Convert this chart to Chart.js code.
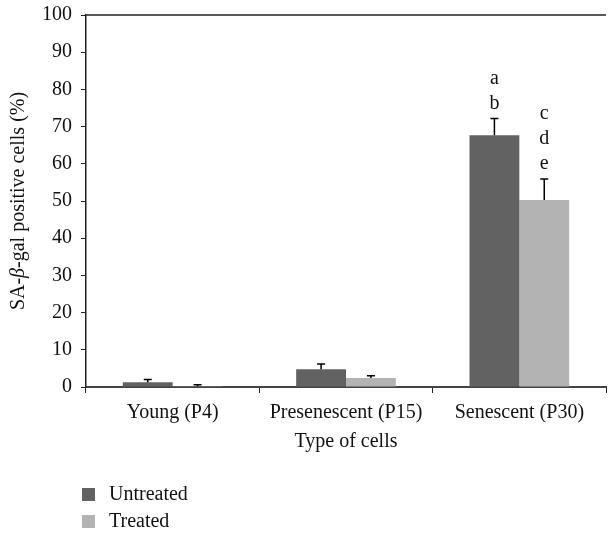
<!DOCTYPE html>
<html>
<head>
<meta charset="utf-8">
<script src="https://cdn.jsdelivr.net/npm/chart.js@4.4.0/dist/chart.umd.min.js"></script>
<style>
  html, body { margin: 0; padding: 0; background: #fff; }
  #wrap { width: 608px; height: 533px; }
</style>
</head>
<body>
<div id="wrap"><canvas id="grafico" width="608" height="533"></canvas></div>
<script>
// datos
const categorias = ['Young (P4)', 'Presenescent (P15)', 'Senescent (P30)'];
const sinTratar = [1.3, 4.8, 67.7];
const sinTratarError = [0.7, 1.4, 4.5];
const tratadas = [0.2, 2.4, 50.3];
const tratadasError = [0.4, 0.6, 5.6];
const letrasSinTratar = [[], [], ['a', 'b']];
const letrasTratadas = [[], [], ['c', 'd', 'e']];
const ticksY = [0, 10, 20, 30, 40, 50, 60, 70, 80, 90, 100];

const fuente = "'Liberation Serif', 'DejaVu Serif', serif";
const tam = 20;
const colorOscuro = '#626262';
const colorClaro = '#b3b3b3';

const extras = {
    id: 'extras',
    afterDatasetsDraw(chart) {
        const ctx = chart.ctx;
        const area = chart.chartArea;
        const y = chart.scales.y;
        const errores = [sinTratarError, tratadasError];
        const letras = [letrasSinTratar, letrasTratadas];

        ctx.save();
        // linea superior del recuadro
        ctx.strokeStyle = '#222';
        ctx.lineWidth = 1.5;
        ctx.beginPath();
        ctx.moveTo(area.left, area.top);
        ctx.lineTo(area.right, area.top);
        ctx.stroke();

        chart.data.datasets.forEach((ds, i) => {
            const meta = chart.getDatasetMeta(i);
            meta.data.forEach((barra, j) => {
                const tope = y.getPixelForValue(ds.data[j] + errores[i][j]);
                ctx.strokeStyle = '#000';
                ctx.lineWidth = 1.5;
                ctx.beginPath();
                ctx.moveTo(barra.x, barra.y);
                ctx.lineTo(barra.x, tope);
                ctx.moveTo(barra.x - 4, tope);
                ctx.lineTo(barra.x + 4, tope);
                ctx.stroke();

                // letras de significancia
                const lista = letras[i][j];
                ctx.fillStyle = '#111';
                ctx.font = tam + 'px ' + fuente;
                ctx.textAlign = 'center';
                ctx.textBaseline = 'middle';
                lista.forEach((letra, k) => {
                    const pos = tope - 15 - (lista.length - 1 - k) * 25;
                    ctx.fillText(letra, barra.x, pos);
                });
            });
        });

        // titulo eje x
        ctx.fillStyle = '#111';
        ctx.font = tam + 'px ' + fuente;
        ctx.textAlign = 'center';
        ctx.textBaseline = 'middle';
        ctx.fillText('Type of cells', (area.left + area.right) / 2, 442);

        // titulo eje y, con beta en cursiva
        const partes = [
            { t: 'SA-', f: tam + 'px ' + fuente },
            { t: 'β', f: 'italic ' + tam + 'px ' + fuente },
            { t: '-gal positive cells (%)', f: tam + 'px ' + fuente }
        ];
        let total = 0;
        partes.forEach(p => { ctx.font = p.f; total += ctx.measureText(p.t).width; });
        ctx.translate(19, (area.top + area.bottom) / 2);
        ctx.rotate(-Math.PI / 2);
        ctx.textAlign = 'left';
        let x = -total / 2;
        partes.forEach(p => {
            ctx.font = p.f;
            ctx.fillText(p.t, x, 0);
            x += ctx.measureText(p.t).width;
        });
        ctx.restore();

        // leyenda
        ctx.save();
        ctx.font = tam + 'px ' + fuente;
        ctx.textBaseline = 'middle';
        ctx.textAlign = 'left';
        chart.data.datasets.forEach((ds, i) => {
            const cy = 494.5 + i * 27;
            ctx.fillStyle = ds.backgroundColor;
            ctx.fillRect(82, cy - 6.5, 13, 13);
            ctx.fillStyle = '#111';
            ctx.fillText(ds.label, 109, cy);
        });
        ctx.restore();
    }
};

new Chart(document.getElementById('grafico'), {
    type: 'bar',
    data: {
        labels: categorias,
        datasets: [
            { label: 'Untreated', data: sinTratar, backgroundColor: colorOscuro },
            { label: 'Treated', data: tratadas, backgroundColor: colorClaro }
        ]
    },
    options: {
        responsive: false,
        animation: false,
        devicePixelRatio: 1,
        layout: { padding: { top: 15, right: 2, left: 0, bottom: 0 } },
        plugins: {
            legend: { display: false },
            tooltip: { enabled: false }
        },
        datasets: {
            bar: { categoryPercentage: 0.575, barPercentage: 1.0 }
        },
        scales: {
            x: {
                afterFit: s => { s.height = 533 - 387; },
                grid: { drawOnChartArea: false, color: '#222', tickLength: 6, offset: true },
                border: { color: '#444', width: 2 },
                ticks: { color: '#111', font: { family: fuente, size: tam }, padding: 8 }
            },
            y: {
                min: 0,
                max: 100,
                afterFit: s => { s.width = 86; s.paddingTop = 0; s.paddingBottom = 0; },
                afterBuildTicks: s => { s.ticks = ticksY.map(v => ({ value: v })); },
                grid: { drawOnChartArea: false, color: '#222', tickLength: 5 },
                border: { color: '#222', width: 1.5 },
                ticks: { color: '#111', font: { family: fuente, size: tam }, padding: 9 }
            }
        }
    },
    plugins: [extras]
});
</script>
</body>
</html>
